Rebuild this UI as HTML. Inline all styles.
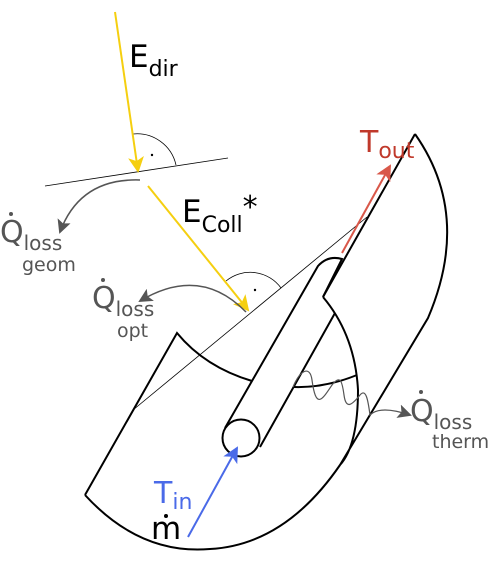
<!DOCTYPE html>
<html><head><meta charset="utf-8"><style>
html,body{margin:0;padding:0;background:#fff}
svg{display:block}
text{font-family:"DejaVu Sans","Liberation Sans",sans-serif}
</style></head><body>
<svg width="496" height="577" viewBox="0 0 496 577">
<defs>
<marker id="ar" markerWidth="16" markerHeight="16" refX="14" refY="8" orient="auto" markerUnits="userSpaceOnUse"><path d="M0,0 L16,8 L0,16 L4,8 Z" fill="#d9584a"/></marker>
<marker id="ab" markerWidth="16" markerHeight="16" refX="14" refY="8" orient="auto" markerUnits="userSpaceOnUse"><path d="M0,0 L16,8 L0,16 L4,8 Z" fill="#4a6ae8"/></marker>
<marker id="ag" markerWidth="14" markerHeight="14" refX="12" refY="7" orient="auto" markerUnits="userSpaceOnUse"><path d="M0,0 L14,7 L0,14 L3,7 Z" fill="#555"/></marker>
<marker id="ay2" markerWidth="16" markerHeight="16" refX="14" refY="8" orient="auto" markerUnits="userSpaceOnUse"><path d="M0,0 L16,8 L0,16 L4,8 Z" fill="#f5cf10"/></marker>
</defs>
<g fill="none" stroke="#000">
<line x1="45" y1="186" x2="228" y2="158" stroke-width="0.8"/>
<path d="M133,134 A40,40 0 0 1 176,165" stroke-width="0.8"/>
<circle cx="152" cy="155" r="1.2" fill="#000" stroke="none"/>
<line x1="133" y1="410" x2="367" y2="217" stroke-width="0.8"/>
<path d="M226,281 A38,38 0 0 1 281,288" stroke-width="0.8"/>
<circle cx="255" cy="290" r="1.2" fill="#000" stroke="none"/>
<path stroke-width="2" d="M85,495 L177,333 Q205,367 252,381 M415,134 Q472,215 428,318 L340,465 M323,297 L415,134 M323,297 Q355,335 358,390 Q358,445 340,465 M85,495 Q140,555 210,549 Q285,545 340,465"/>
<path stroke-width="2" d="M294,387 Q325,388 357,375"/>
<path stroke-width="2" d="M225,428 L318,266 Q328,255 342,259 L323,297 M335,313 L260,447"/>
<circle cx="241" cy="438" r="18.5" stroke-width="2" fill="#fff"/>
</g>
<line x1="115" y1="12" x2="138" y2="171" stroke="#f5cf10" stroke-width="2" marker-end="url(#ay2)"/>
<line x1="148" y1="186" x2="248" y2="310" stroke="#f5cf10" stroke-width="2" marker-end="url(#ay2)"/>
<line x1="342" y1="253" x2="390" y2="166" stroke="#d9584a" stroke-width="2" marker-end="url(#ar)"/>
<line x1="188" y1="537" x2="237" y2="448" stroke="#4a6ae8" stroke-width="2" marker-end="url(#ab)"/>
<path d="M140,180 Q80,178 60,232" fill="none" stroke="#555" stroke-width="1.5" marker-end="url(#ag)"/>
<path d="M246,312 Q200,265 140,301" fill="none" stroke="#555" stroke-width="1.5" marker-end="url(#ag)"/>
<path d="M293,387 C300,370 310,365 312,380 C316,410 322,400 332,385 C340,375 342,380 344,395 C346,410 352,405 360,395 C366,388 368,400 370,415 Q380,405 410,415" fill="none" stroke="#555" stroke-width="1.2" marker-end="url(#ag)"/>
<text x="129" y="67" font-size="31" fill="#000">E<tspan font-size="22" dy="9">dir</tspan></text>
<text x="182" y="222" font-size="31" fill="#000">E<tspan font-size="22" dy="10">Coll</tspan><tspan font-size="30" dy="-15">*</tspan></text>
<text x="360" y="152" font-size="30" fill="#c0392b">T<tspan font-size="22" dy="6">out</tspan></text>
<text x="154" y="503" font-size="30" fill="#4a6ae8">T<tspan font-size="22" dy="6">in</tspan></text>
<text x="151" y="539" font-size="31" fill="#000">m</text>
<circle cx="166" cy="516" r="2" fill="#000"/>
<text x="0" y="242" font-size="30" fill="#555">Q<tspan font-size="20" dy="8">loss</tspan></text>
<circle cx="11" cy="214" r="2" fill="#555"/>
<text x="22" y="271" font-size="19" fill="#555">geom</text>
<text x="92" y="308" font-size="30" fill="#555">Q<tspan font-size="20" dy="8">loss</tspan></text>
<circle cx="103" cy="280" r="2" fill="#555"/>
<text x="117" y="337" font-size="19" fill="#555">opt</text>
<text x="410" y="421" font-size="30" fill="#555">Q<tspan font-size="20" dy="8">loss</tspan></text>
<circle cx="421" cy="392" r="2" fill="#555"/>
<text x="432" y="448" font-size="19" fill="#555">therm</text>
</svg>
</body></html>
